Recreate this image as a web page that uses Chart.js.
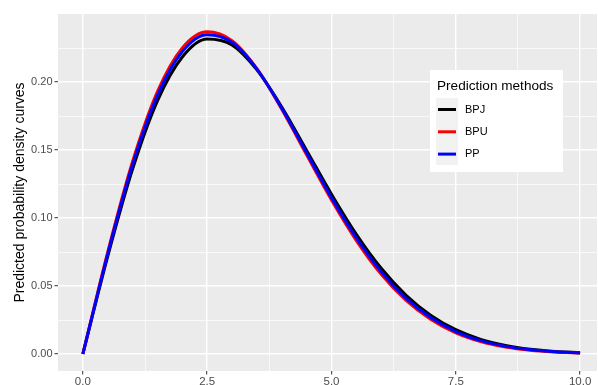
<!DOCTYPE html>
<html>
<head>
<meta charset="utf-8">
<script src="https://cdn.jsdelivr.net/npm/chart.js@4"></script>
<style>
  html, body { margin: 0; padding: 0; background: #fff; }
  #wrap { width: 598px; height: 385px; }
</style>
</head>
<body>
<div id="wrap"><canvas id="densityChart"></canvas></div>
<script>
// values
const xValues = [0, 0.5, 1, 1.5, 2, 2.5, 3, 3.5, 4, 4.5, 5, 5.5, 6, 6.5, 7, 7.5, 8, 8.5, 9, 9.5, 10];
const bpj = [0, 0.0718, 0.1360, 0.1862, 0.2184, 0.2316, 0.2273, 0.2090, 0.1816, 0.1497, 0.1175, 0.0880, 0.0630, 0.0432, 0.0284, 0.0179, 0.0108, 0.0063, 0.0035, 0.0019, 0.0010];
const bpu = [0, 0.0749, 0.1415, 0.1929, 0.2250, 0.2369, 0.2304, 0.2098, 0.1800, 0.1464, 0.1132, 0.0834, 0.0586, 0.0394, 0.0254, 0.0156, 0.0092, 0.0052, 0.0028, 0.0015, 0.0007];
const pp  = [0, 0.0737, 0.1393, 0.1902, 0.2224, 0.2348, 0.2292, 0.2095, 0.1807, 0.1478, 0.1149, 0.0853, 0.0604, 0.0409, 0.0266, 0.0165, 0.0098, 0.0056, 0.0031, 0.0016, 0.0008];

const seriesNames = ["BPJ", "BPU", "PP"];
const seriesColors = ["#000000", "#FF0000", "#0000FF"];

const xTicks = [0, 1.25, 2.5, 3.75, 5, 6.25, 7.5, 8.75, 10];
const yTicks = [0, 0.025, 0.05, 0.075, 0.1, 0.125, 0.15, 0.175, 0.2, 0.225];

const legendTitle = "Prediction methods";
const yTitle = "Predicted probability density curves";

const FONT = "'Liberation Sans', Arial, sans-serif";

const panelBg = {
    id: "panelBg",
    beforeDraw(chart) {
        const { ctx, chartArea: a } = chart;
        ctx.save();
        ctx.fillStyle = "#EBEBEB";
        ctx.fillRect(a.left, a.top, a.right - a.left, a.bottom - a.top);
        ctx.restore();
    }
};

const legendBox = {
    id: "legendBox",
    afterDraw(chart) {
        const { ctx, chartArea: a } = chart;
        const x = a.right - 167, y = a.top + 56;
        ctx.save();
        ctx.fillStyle = "#FFFFFF";
        ctx.fillRect(x, y, 133, 102);
        ctx.fillStyle = "#000";
        ctx.font = "13.6px " + FONT;
        ctx.textBaseline = "middle";
        ctx.fillText(legendTitle, x + 7, y + 16);
        ctx.fillStyle = "#F2F2F2";
        ctx.fillRect(x + 6, y + 28, 22, 67);
        ctx.font = "11px " + FONT;
        chart.data.datasets.forEach((ds, i) => {
            const cy = y + 39.5 + i * 22.3;
            ctx.beginPath();
            ctx.moveTo(x + 8, cy);
            ctx.lineTo(x + 26, cy);
            ctx.strokeStyle = ds.borderColor;
            ctx.lineWidth = 3;
            ctx.stroke();
            ctx.fillStyle = "#000";
            ctx.fillText(ds.label, x + 35, cy);
        });
        ctx.restore();
    }
};

const series = [bpj, bpu, pp];
const datasets = series.map((vals, i) => ({
    label: seriesNames[i],
    data: xValues.map((x, j) => ({ x: x, y: vals[j] })),
    borderColor: seriesColors[i],
    borderWidth: 3,
    pointRadius: 0,
    fill: false,
    cubicInterpolationMode: "monotone",
    order: 3 - i
}));

const gridOpts = {
    color: "#FFFFFF",
    lineWidth: c => (c.index % 2 ? 0.7 : 1.4),
    tickColor: c => (c.index % 2 ? "rgba(0,0,0,0)" : "#333333"),
    tickWidth: 1,
    tickLength: 3.5,
    drawTicks: true
};

new Chart(document.getElementById("densityChart"), {
    type: "line",
    data: { datasets: datasets },
    options: {
        responsive: true,
        maintainAspectRatio: false,
        animation: false,
        layout: { padding: { top: 14, right: 1, left: 0, bottom: 0 } },
        plugins: {
            legend: { display: false },
            tooltip: { enabled: false }
        },
        scales: {
            x: {
                type: "linear",
                min: -0.5,
                max: 10.34,
                afterBuildTicks: s => { s.ticks = xTicks.map(v => ({ value: v })); },
                afterFit: s => { s.height = 14; },
                border: { display: false },
                grid: gridOpts,
                ticks: {
                    autoSkip: false,
                    maxRotation: 0,
                    padding: 0,
                    color: "#4D4D4D",
                    font: { family: FONT, size: 11.5 },
                    callback: (v, i) => (i % 2 ? "" : xTicks[i].toFixed(1))
                }
            },
            y: {
                min: -0.0125,
                max: 0.25,
                afterBuildTicks: s => { s.ticks = yTicks.map(v => ({ value: v })); },
                afterFit: s => { s.width = 58; },
                border: { display: false },
                grid: gridOpts,
                ticks: {
                    autoSkip: false,
                    padding: 2,
                    color: "#4D4D4D",
                    font: { family: FONT, size: 11 },
                    callback: (v, i) => (i % 2 ? "" : yTicks[i].toFixed(2))
                },
                title: {
                    display: true,
                    text: yTitle,
                    color: "#000",
                    font: { family: FONT, size: 14 },
                    padding: { top: 12, bottom: 0 }
                }
            }
        }
    },
    plugins: [panelBg, legendBox]
});
</script>
</body>
</html>
